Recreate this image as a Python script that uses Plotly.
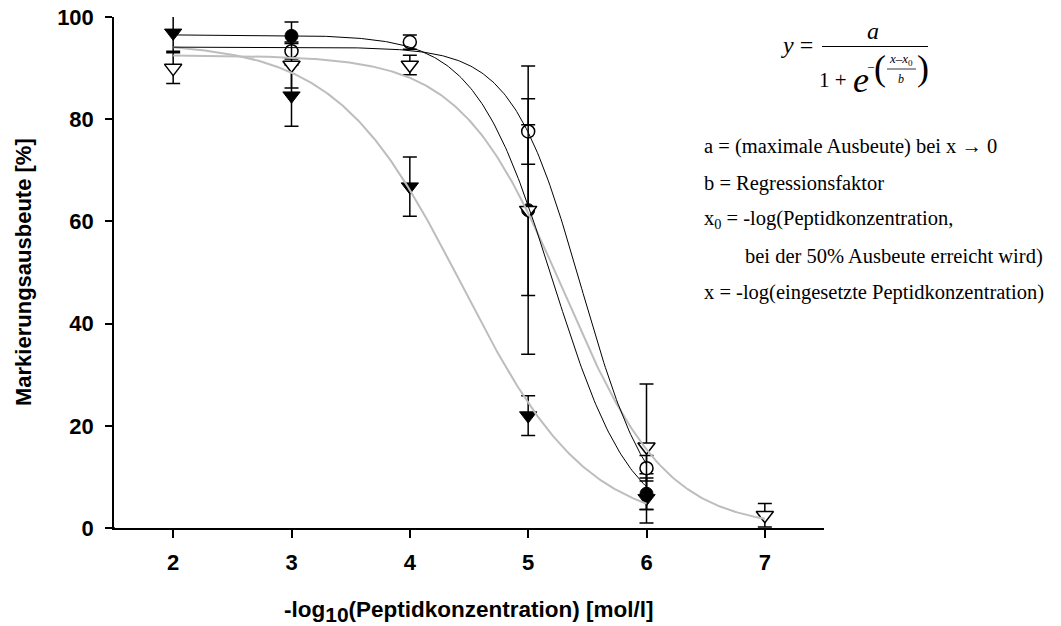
import numpy as np
import plotly.graph_objects as go

# ---------------- data ----------------
# filled circles
x_fc = [3, 5, 6]
y_fc = [96.3, 62.2, 6.7]
e_fc = [2.7, 28.2, 3.1]
# open circles
x_oc = [3, 4, 5, 6]
y_oc = [93.3, 95.1, 77.6, 11.7]
e_oc = [1.5, 1.4, 6.4, 2.5]
# filled down-triangles
x_ft = [2, 3, 4, 5, 6]
y_ft = [96.9, 84.6, 66.8, 22.0, 5.8]
e_ft = [3.6, 6.0, 5.8, 3.9, 4.8]
# open down-triangles
x_ot = [2, 3, 4, 5, 6, 7]
y_ot = [90.0, 90.6, 90.6, 62.2, 15.9, 2.5]
e_ot = [3.0, 4.5, 1.9, 16.7, 12.3, 2.3]

# fitted sigmoid parameters y = a / (1 + exp(-(x - x0)/b)), and fitted x-range
fit_fc = dict(a=96.5, b=-0.33, x0=5.21, xmin=2, xmax=6)
fit_oc = dict(a=94.1, b=-0.293, x0=5.45, xmin=2, xmax=6)
fit_ft = dict(a=95.0, b=-0.53, x0=4.44, xmin=2, xmax=6)
fit_ot = dict(a=92.5, b=-0.434, x0=5.30, xmin=2, xmax=7)

x_ticks = [2, 3, 4, 5, 6, 7]
y_ticks = [0, 20, 40, 60, 80, 100]

# ---------------- layout geometry ----------------
W, H = 1061, 626
ML, MR, MT, MB = 114, 237, 17, 98
PW, PH = W - ML - MR, H - MT - MB

def px(x):
    return (x - ML) / PW

def py(y):
    return (H - MB - y) / PH

SANS = "Liberation Sans, Arial, sans-serif"
SERIF = "Liberation Serif, Times New Roman, serif"

fig = go.Figure()

def sigmoid(p):
    xs = np.linspace(p["xmin"], p["xmax"], 300)
    ys = p["a"] / (1 + np.exp(-(xs - p["x0"]) / p["b"]))
    return xs, ys

def err(e):
    return dict(type="data", array=e, visible=True, color="black", thickness=1.5, width=7)

fig.add_trace(go.Scatter(x=x_fc, y=y_fc, mode="markers", error_y=err(e_fc),
                         marker=dict(symbol="circle", size=13, color="black",
                                     line=dict(color="black", width=1))))
fig.add_trace(go.Scatter(x=x_ft, y=y_ft, mode="markers", error_y=err(e_ft),
                         marker=dict(symbol="triangle-down", size=15, color="black",
                                     line=dict(color="black", width=1))))
fig.add_trace(go.Scatter(x=x_oc, y=y_oc, mode="markers", error_y=err(e_oc),
                         marker=dict(symbol="circle", size=13, color="white",
                                     line=dict(color="black", width=1.5))))
fig.add_trace(go.Scatter(x=x_ot, y=y_ot, mode="markers", error_y=err(e_ot),
                         marker=dict(symbol="triangle-down", size=15, color="white",
                                     line=dict(color="black", width=1.5))))

for p, col, w in [(fit_ft, "#bdbdbd", 2), (fit_ot, "#bdbdbd", 2),
                  (fit_fc, "black", 1), (fit_oc, "black", 1)]:
    xs, ys = sigmoid(p)
    fig.add_trace(go.Scatter(x=xs, y=ys, mode="lines", line=dict(color=col, width=w)))

ann = []
# axis titles
ann.append(dict(x=px(469), y=py(611), xref="paper", yref="paper", showarrow=False,
                text="<b>-log<sub><span style='font-size:21px'>10</span></sub>(Peptidkonzentration) [mol/l]</b>",
                font=dict(family=SANS, size=22.5, color="black"),
                xanchor="center", yanchor="middle"))
ann.append(dict(x=px(23), y=py(272), xref="paper", yref="paper", showarrow=False,
                text="<b>Markierungsausbeute [%]</b>", textangle=-90,
                font=dict(family=SANS, size=22, color="black"),
                xanchor="center", yanchor="middle"))

# description text
desc = [
    (702, 146, "a = (maximale Ausbeute) bei x \u2192 0"),
    (702, 183, "b = Regressionsfaktor"),
    (702, 219, "x<sub>0</sub> = -log(Peptidkonzentration,"),
    (743, 256, "bei der 50% Ausbeute erreicht wird)"),
    (702, 292, "x = -log(eingesetzte Peptidkonzentration)"),
]
for xx, yy, t in desc:
    ann.append(dict(x=px(xx), y=py(yy), xref="paper", yref="paper", showarrow=False,
                    text=t, font=dict(family=SERIF, size=20.5, color="black"),
                    xanchor="left", yanchor="middle"))

# formula
def fa(xx, yy, t, size, xanchor="center"):
    ann.append(dict(x=px(xx), y=py(yy), xref="paper", yref="paper", showarrow=False,
                    text=t, font=dict(family=SERIF, size=size, color="black"),
                    xanchor=xanchor, yanchor="middle"))

fa(815, 45, "<i>y</i> =", 24, "right")
fa(873, 31, "<i>a</i>", 24)
fa(833, 80, "1 +", 21)
fa(861, 80, "<i>e</i>", 36)
fa(871, 66, "\u2013", 12)
fa(880, 68, "(", 36)
fa(923, 68, ")", 36)
fa(901, 59, "<i>x</i>\u2013<i>x</i><sub>0</sub>", 13)
fa(901, 79, "<i>b</i>", 12)

shapes = [
    dict(type="line", xref="paper", yref="paper", x0=px(822), x1=px(928), y0=py(46.5), y1=py(46.5),
         line=dict(color="black", width=1)),
    dict(type="line", xref="paper", yref="paper", x0=px(887), x1=px(916), y0=py(69), y1=py(69),
         line=dict(color="black", width=0.8)),
    # extension of x-axis line to the left of the y-axis
    dict(type="line", xref="paper", yref="paper", x0=px(106), x1=px(115), y0=0, y1=0,
         line=dict(color="black", width=1.5)),
]

fig.update_layout(
    width=W, height=H,
    margin=dict(l=ML, r=MR, t=MT, b=MB, pad=0),
    paper_bgcolor="white", plot_bgcolor="white",
    showlegend=False,
    annotations=ann, shapes=shapes,
    xaxis=dict(range=[1.5, 7.5], tickvals=x_ticks, ticktext=[str(v) for v in x_ticks],
               automargin=False,
               showgrid=False, zeroline=False, showline=True, linecolor="black", linewidth=1.5,
               ticks="outside", ticklen=8, tickwidth=1.5, tickcolor="black",
               ticklabelstandoff=6,
               tickfont=dict(family=SANS, size=22, color="black", weight="bold")),
    yaxis=dict(range=[0, 100], tickvals=y_ticks, ticktext=[str(v) for v in y_ticks],
               automargin=False,
               showgrid=False, zeroline=False, showline=True, linecolor="black", linewidth=1.5,
               ticks="outside", ticklen=7, tickwidth=1.5, tickcolor="black",
               ticklabelstandoff=7,
               tickfont=dict(family=SANS, size=22, color="black", weight="bold")),
)

fig.write_html("out.html", config={"displayModeBar": False},
               post_script="document.body.style.margin='0';document.body.style.padding='0';")
